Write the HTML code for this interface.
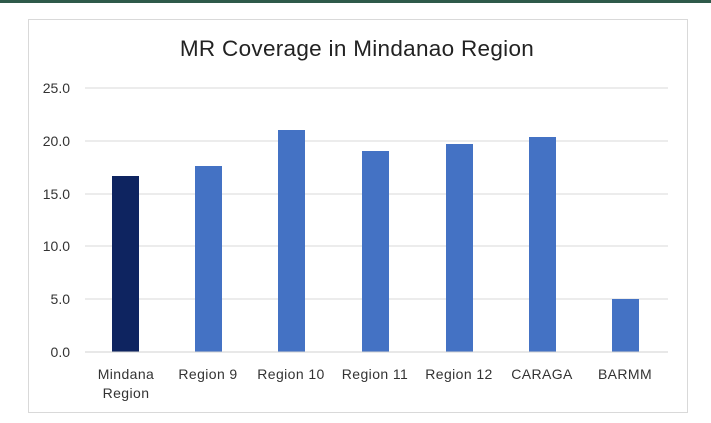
<!DOCTYPE html>
<html><head><meta charset="utf-8"><style>
body{margin:0;width:711px;height:418px;background:#fff;overflow:hidden;font-family:"Liberation Sans",Calibri,sans-serif}
</style></head><body>
<svg width="711" height="418" xmlns="http://www.w3.org/2000/svg" font-family="Liberation Sans, sans-serif">
<rect x="0" y="0" width="711" height="3" fill="#2e5a4a"/>
<rect x="28.5" y="19.5" width="659" height="393" fill="#fff" stroke="#d9d9d9"/>
<text x="357" y="56" font-size="22.5" text-anchor="middle" fill="#222" letter-spacing="0.3">MR Coverage in Mindanao Region</text>
<g stroke="#d9d9d9" stroke-width="1">
<line x1="85" x2="668" y1="88" y2="88"/>
<line x1="85" x2="668" y1="141" y2="141"/>
<line x1="85" x2="668" y1="194" y2="194"/>
<line x1="85" x2="668" y1="246" y2="246"/>
<line x1="85" x2="668" y1="299" y2="299"/>
</g>
<g font-size="14" fill="#333" text-anchor="end">
<text x="70" y="93">25.0</text>
<text x="70" y="146">20.0</text>
<text x="70" y="199">15.0</text>
<text x="70" y="251">10.0</text>
<text x="70" y="304">5.0</text>
<text x="70" y="357">0.0</text>
</g>
<rect x="112" y="176" width="27" height="176" fill="#0e2460"/>
<g fill="#4472c4">
<rect x="195" y="166" width="27" height="186"/>
<rect x="278" y="130" width="27" height="222"/>
<rect x="362" y="151" width="27" height="201"/>
<rect x="446" y="144" width="27" height="208"/>
<rect x="529" y="137" width="27" height="215"/>
<rect x="612" y="299" width="27" height="53"/>
</g>
<line x1="85" x2="668" y1="352" y2="352" stroke="#d0d0d0"/>
<g font-size="14" fill="#333" text-anchor="middle" letter-spacing="0.4">
<text x="126" y="379">Mindana</text>
<text x="126" y="398">Region</text>
<text x="208" y="379">Region  9</text>
<text x="291" y="379">Region  10</text>
<text x="375" y="379">Region  11</text>
<text x="459" y="379">Region  12</text>
<text x="542" y="379">CARAGA</text>
<text x="625" y="379">BARMM</text>
</g>
</svg>
</body></html>
